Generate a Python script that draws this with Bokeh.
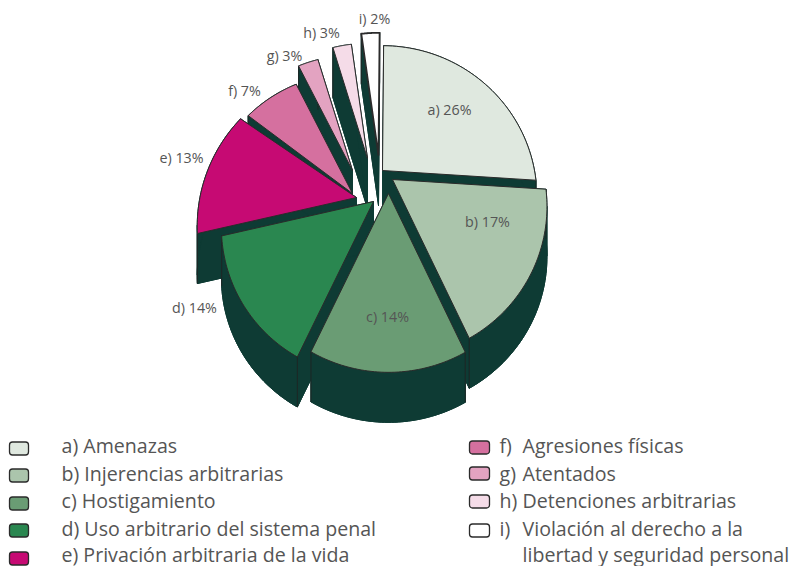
import math
from bokeh.plotting import figure
from bokeh.models import Range1d
from bokeh.core.properties import value
from bokeh.embed import file_html
from bokeh.resources import INLINE

# ---- data ----
keys = ["a", "b", "c", "d", "e", "f", "g", "h", "i"]
shares = [25.9, 17.0, 14.0, 14.3, 13.4, 7.9, 2.7, 2.5, 2.3]
pct_labels = ["a) 26%", "b) 17%", "c) 14%", "d) 14%", "e) 13%", "f) 7%", "g) 3%", "h) 3%", "i) 2%"]
colors = ["#dfe8df", "#abc5ac", "#6a9c74", "#2a8750", "#c60a73", "#d5709f", "#e3a3c1", "#f5dce8", "#ffffff"]
legend_left = ["a) Amenazas", "b) Injerencias arbitrarias", "c) Hostigamiento",
               "d) Uso arbitrario del sistema penal", "e) Privación arbitraria de la vida"]
legend_right_keys = ["f)", "g)", "h)", "i)"]
legend_right_names = ["Agresiones físicas", "Atentados", "Detenciones arbitrarias",
                      "Violación al derecho a la", "libertad y seguridad personal"]

# ---- layout (page pixels) ----
DARK = "#0e3b34"
EDGE = "#2b2b2b"
TEXT = "#555555"
FONT = "Open Sans"
SX, SY, T = 152.0, 147.0, 0.178
DEPTH = 50
START = 0.5
apex = {"a": (382, 170), "b": (392, 179), "c": (388, 193), "d": (373, 201), "e": (356, 197),
        "f": (352, 193), "g": (352, 170), "h": (367, 158), "i": (378, 155)}
scale = {"a": 1.0, "b": 1.0, "c": 1.0, "d": 0.985, "e": 1.03, "f": 0.957, "g": 0.91, "h": 0.91, "i": 0.98}
trim_start = {"f": 2.6}
order = ["i", "h", "g", "f", "a", "e", "b", "d", "c"]
label_xy = {"a": (449, 110), "b": (487, 222), "c": (387, 317), "d": (194, 308), "e": (181, 158),
            "f": (244, 91), "g": (284, 56), "h": (321, 33), "i": (374, 19)}

p = figure(width=789, height=566, x_range=Range1d(0, 789), y_range=Range1d(566, 0),
           output_backend="svg", toolbar_location=None, min_border=0)
p.axis.visible = False
p.grid.visible = False
p.outline_line_color = None


def project(deg, r):
    a = math.radians(deg)
    x, y = r * math.sin(a), r * math.cos(a)
    w = 1 + T * y
    return SX * x / w, -SY * y / w


bounds = {}
c = START
for k, s in zip(keys, shares):
    bounds[k] = (c + trim_start.get(k, 0), c + s * 3.6)
    c += s * 3.6
col = dict(zip(keys, colors))

for k in order:
    a0, a1 = bounds[k]
    ax, ay = apex[k]
    n = 48
    arc = []
    for j in range(n + 1):
        dx, dy = project(a0 + (a1 - a0) * j / n, scale[k])
        arc.append((ax + dx, ay + dy))
    pts = [(ax, ay)] + arc
    xs = [q[0] for q in pts]
    ys = [q[1] for q in pts]
    # extruded side: shifted copy, the two radial faces, and the outer wall split where x turns back
    qx, qy = [[x for x in xs]], [[y + DEPTH for y in ys]]
    for e in (arc[0], arc[-1]):
        qx.append([ax, e[0], e[0], ax])
        qy.append([ay, e[1], e[1] + DEPTH, ay + DEPTH])
    run = [arc[0]]
    for j in range(1, len(arc)):
        run.append(arc[j])
        turn = j + 1 < len(arc) and (arc[j][0] - arc[j - 1][0]) * (arc[j + 1][0] - arc[j][0]) < 0
        if turn or j == len(arc) - 1:
            qx.append([q[0] for q in run] + [q[0] for q in reversed(run)])
            qy.append([q[1] for q in run] + [q[1] + DEPTH for q in reversed(run)])
            run = [arc[j]]
    p.patches(qx, qy, fill_color=DARK, line_color=DARK, line_width=1)
    p.segment([xs[1], xs[-1]], [ys[1], ys[-1]], [xs[1], xs[-1]], [ys[1] + DEPTH, ys[-1] + DEPTH],
              line_color="#222222", line_width=0.8)
    p.patch(xs, ys, fill_color=col[k], line_color=EDGE, line_width=1.8 if k == "i" else 1.0,
            line_join="miter")

for k, lab in zip(keys, pct_labels):
    lx, ly = label_xy[k]
    p.text([lx], [ly - 1], text=[lab], text_font=value(FONT), text_font_size="14.3px", text_color=TEXT,
           text_align="center", text_baseline="middle")

# legend
rows_y = [445, 473, 500, 528, 554]
sw_left = [448, 475, 503, 530, 558]
sw_right = [447, 473, 501, 530]
p.quad(left=[9] * 5, right=[28] * 5, top=[y - 6.5 for y in sw_left], bottom=[y + 6.5 for y in sw_left],
       fill_color=colors[:5], line_color=EDGE, line_width=1.3, border_radius=3)
p.quad(left=[469] * 4, right=[489] * 4, top=[y - 6.5 for y in sw_right], bottom=[y + 6.5 for y in sw_right],
       fill_color=colors[5:], line_color=EDGE, line_width=1.3, border_radius=3)
p.text([61] * 5, rows_y, text=legend_left, text_font=value(FONT), text_font_size="19.6px",
       text_color=TEXT, text_baseline="alphabetic")
p.text([499] * 4, rows_y[:4], text=legend_right_keys, text_font=value(FONT), text_font_size="19.6px",
       text_color=TEXT, text_baseline="alphabetic")
p.text([522] * 5, rows_y, text=legend_right_names, text_font=value(FONT), text_font_size="19.6px",
       text_color=TEXT, text_baseline="alphabetic")

open("out.html", "w").write(file_html(p, INLINE))
